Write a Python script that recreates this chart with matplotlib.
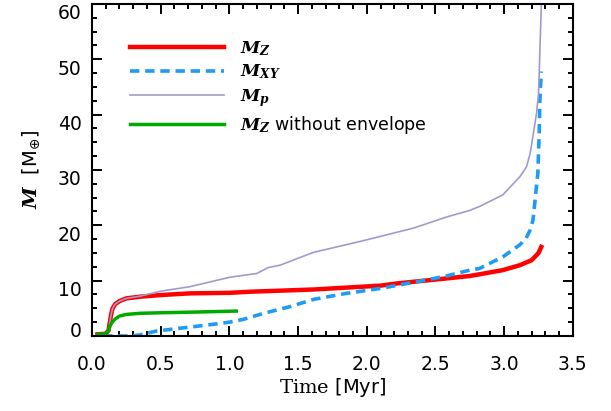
import numpy as np
import matplotlib.pyplot as plt
from matplotlib.ticker import MultipleLocator
from matplotlib.transforms import ScaledTranslation, blended_transform_factory

plt.rcParams['mathtext.fontset'] = 'custom'
plt.rcParams['mathtext.rm'] = 'DejaVu Sans'
plt.rcParams['mathtext.it'] = 'DejaVu Serif:italic'
plt.rcParams['mathtext.bf'] = 'DejaVu Serif:bold:italic'
plt.rcParams['mathtext.sf'] = 'DejaVu Serif'

# values
t_z = [0.04, 0.10, 0.12, 0.13, 0.14, 0.15, 0.17, 0.20, 0.25, 0.35, 0.50, 0.71, 1.00,
       1.15, 1.61, 2.10, 2.22, 2.58, 2.75, 2.82, 2.99, 3.115, 3.20, 3.25, 3.27]
m_z = [0.3, 0.4, 1.0, 2.5, 4.0, 5.0, 5.8, 6.3, 6.8, 7.1, 7.4, 7.7, 7.8,
       8.0, 8.4, 9.1, 9.5, 10.4, 10.85, 11.15, 11.9, 12.8, 13.7, 15.0, 16.1]

t_xy = [0.08, 0.29, 0.35, 0.47, 0.71, 0.91, 1.00, 1.10, 1.25, 1.44, 1.61, 1.85, 2.10,
        2.34, 2.46, 2.58, 2.75, 2.82, 2.99, 3.115, 3.16, 3.19, 3.21, 3.22, 3.245, 3.255,
        3.26, 3.27]
m_xy = [0.0, 0.0, 0.2, 0.9, 1.6, 2.2, 2.5, 3.0, 4.1, 5.3, 6.6, 7.7, 8.6,
        9.7, 10.25, 10.85, 11.9, 12.2, 14.3, 16.5, 17.7, 19.2, 21.0, 23.4, 29.4, 36.7,
        42.7, 47.8]

t_p = [0.04, 0.10, 0.12, 0.13, 0.14, 0.15, 0.17, 0.20, 0.25, 0.35, 0.50, 0.71, 1.00,
       1.20, 1.28, 1.37, 1.61, 1.97, 2.34, 2.58, 2.75, 2.82, 2.99, 3.115, 3.163, 3.19,
       3.22, 3.236, 3.25, 3.255, 3.26, 3.27, 3.272]
m_p = [0.3, 0.4, 1.0, 2.5, 4.0, 5.0, 5.8, 6.3, 6.8, 7.2, 8.1, 8.9, 10.6,
       11.3, 12.35, 12.8, 15.1, 17.2, 19.5, 21.5, 22.7, 23.4, 25.5, 28.8, 30.6, 33.1,
       37.8, 40.3, 43.9, 47.5, 51.7, 59.3, 61.0]

t_noenv = [0.04, 0.10, 0.12, 0.13, 0.15, 0.17, 0.20, 0.25, 0.35, 0.50, 0.71, 1.05]
m_noenv = [0.3, 0.4, 1.0, 1.8, 2.6, 3.1, 3.6, 3.9, 4.1, 4.2, 4.3, 4.5]

y_ticks = [0, 10, 20, 30, 40, 50, 60]

fig = plt.figure(figsize=(6.11, 4.11), dpi=100)
ax = fig.add_axes([0.1506, 0.1825, 0.787, 0.8078])

ax.plot(t_z, m_z, color='#ff0000', lw=3.2, label=r'$\mathbf{M}_{\mathbf{Z}}$')
ax.plot(t_xy, m_xy, color='#1e9bf5', lw=2.6, dashes=(2.6, 1.6), label=r'$\mathbf{M}_{\mathbf{XY}}$')
ax.plot(t_p, m_p, color='#a09bcb', lw=1.2, label=r'$\mathbf{M}_{\mathbf{p}}$')
ax.plot(t_noenv, m_noenv, color='#00aa00', lw=2.5,
        label=r'$\mathbf{M}_{\mathbf{Z}}$ without envelope')

ax.set_xlim(0, 3.5)
ax.set_ylim(0, 60)
ax.xaxis.set_major_locator(MultipleLocator(0.5))
ax.xaxis.set_minor_locator(MultipleLocator(0.1))
ax.set_yticks(y_ticks)
ax.yaxis.set_minor_locator(MultipleLocator(2.5))
ax.xaxis.set_major_formatter(lambda v, p: f'{v:.1f}')
ax.tick_params(which='both', direction='in', top=True, right=True, width=1.4, labelsize=13.5)
ax.tick_params(which='major', length=7)
ax.tick_params(which='minor', length=3.6)
ax.tick_params(axis='x', pad=14)
ax.tick_params(axis='y', labelleft=False)
for s in ax.spines.values():
    s.set_linewidth(1.5)

# y labels sit a little below their ticks in the original, the 0 a little above
trans = blended_transform_factory(ax.transAxes, ax.transData)
for v in y_ticks:
    dy = 6 if v == 0 else -8
    ax.text(-0.022, v, str(v), fontsize=13.5, ha='right', va='center_baseline',
            transform=trans + ScaledTranslation(0, dy / 100, fig.dpi_scale_trans))

ax.set_xlabel(r'$\mathsf{Time}$ [Myr]', fontsize=14, labelpad=1)
ax.set_ylabel(r'$\mathbf{M}$  [M$_{\oplus}$]', fontsize=14)
ax.yaxis.set_label_coords(-0.105, 0.5)

ax.legend(loc='upper left', bbox_to_anchor=(0.079, 0.895), frameon=False, fontsize=12.5,
          handlelength=5.4, handletextpad=0.95, borderpad=0, borderaxespad=0,
          labelspacing=0.3)

fig.savefig('out.png', dpi=100)
